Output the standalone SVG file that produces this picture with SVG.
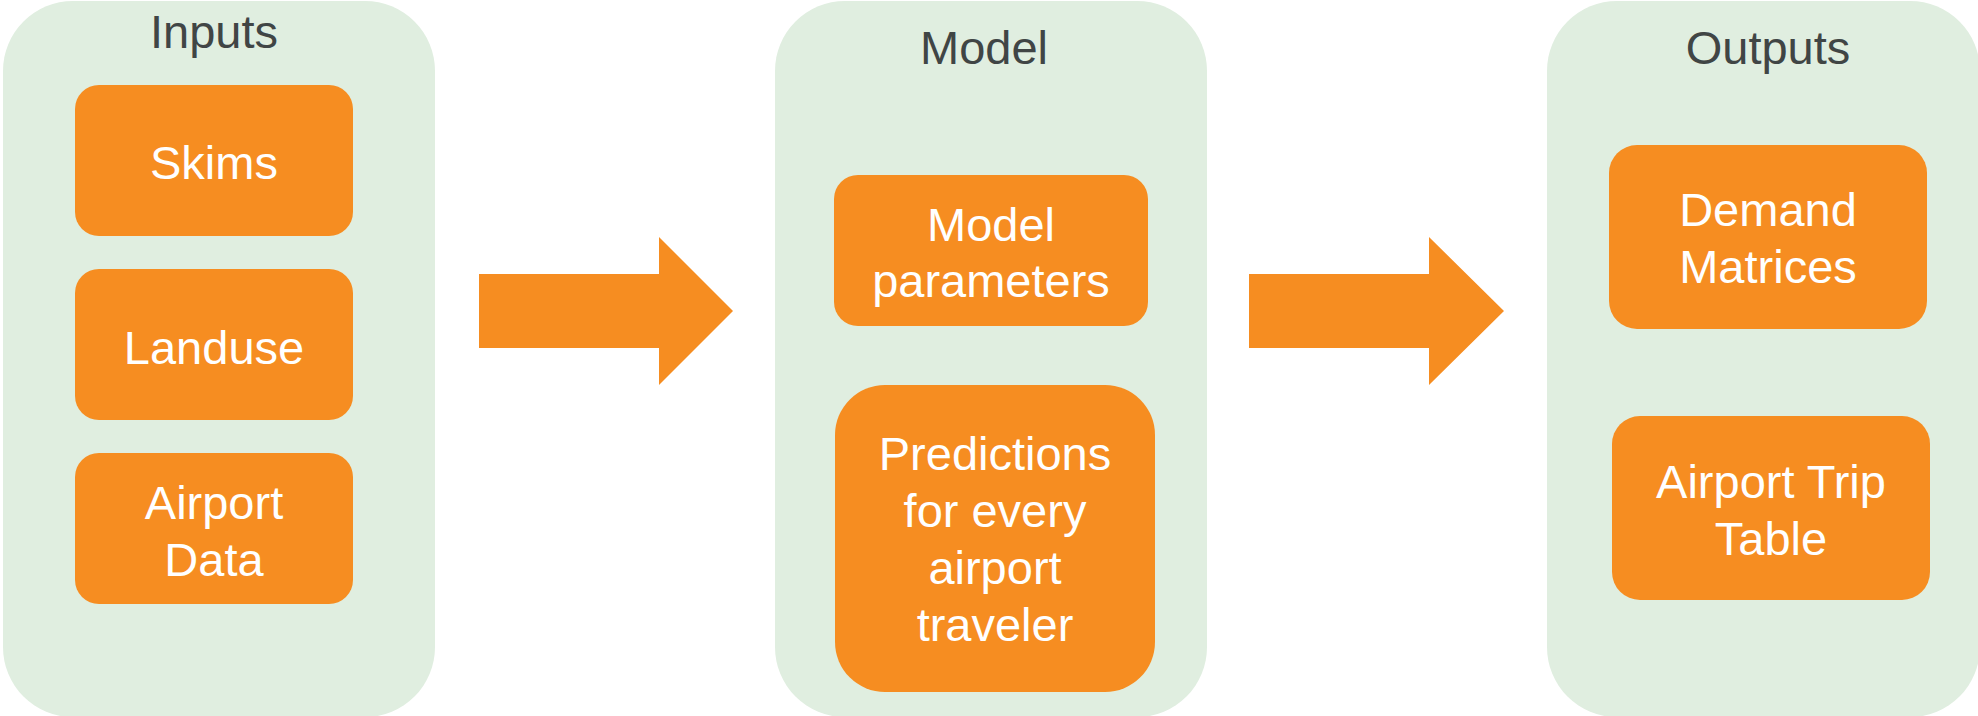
<svg xmlns="http://www.w3.org/2000/svg" width="1978" height="716" viewBox="0 0 1978 716">
<style>
.cont{fill:#E0EEE0;}
.box{fill:#F68D21;}
.title{font-family:"Liberation Sans",Arial,sans-serif;font-size:47px;fill:#404545;text-anchor:middle;}
.lbl{font-family:"Liberation Sans",Arial,sans-serif;font-size:47px;fill:#FFFFFF;text-anchor:middle;}
.arrow{fill:#F68D21;}
</style>
<rect width="1978" height="716" fill="#FFFFFF"/>
<g id="inputs">
<rect class="cont" x="3" y="1" width="432" height="716" rx="70" ry="70"/>
<text class="title" x="214" y="48">Inputs</text>
</g>
<g id="skims">
<rect class="box" x="75" y="85" width="278" height="151" rx="24" ry="24"/>
<text class="lbl" x="214" y="179">Skims</text>
</g>
<g id="landuse">
<rect class="box" x="75" y="269" width="278" height="151" rx="24" ry="24"/>
<text class="lbl" x="214" y="364">Landuse</text>
</g>
<g id="airport-data">
<rect class="box" x="75" y="453" width="278" height="151" rx="24" ry="24"/>
<text class="lbl" x="214" y="519">Airport</text>
<text class="lbl" x="214" y="576">Data</text>
</g>
<g id="model">
<rect class="cont" x="775" y="1" width="432" height="716" rx="70" ry="70"/>
<text class="title" x="984" y="64">Model</text>
</g>
<g id="model-parameters">
<rect class="box" x="834" y="175" width="314" height="151" rx="24" ry="24"/>
<text class="lbl" x="991" y="241">Model</text>
<text class="lbl" x="991" y="297">parameters</text>
</g>
<g id="predictions">
<rect class="box" x="835" y="385" width="320" height="307" rx="50" ry="50"/>
<text class="lbl" x="995" y="470">Predictions</text>
<text class="lbl" x="995" y="527">for every</text>
<text class="lbl" x="995" y="584">airport</text>
<text class="lbl" x="995" y="641">traveler</text>
</g>
<g id="outputs">
<rect class="cont" x="1547" y="1" width="433" height="716" rx="70" ry="70"/>
<text class="title" x="1768" y="64">Outputs</text>
</g>
<g id="demand-matrices">
<rect class="box" x="1609" y="145" width="318" height="184" rx="28" ry="28"/>
<text class="lbl" x="1768" y="226">Demand</text>
<text class="lbl" x="1768" y="283">Matrices</text>
</g>
<g id="airport-trip-table">
<rect class="box" x="1612" y="416" width="318" height="184" rx="28" ry="28"/>
<text class="lbl" x="1771" y="498">Airport Trip</text>
<text class="lbl" x="1771" y="555">Table</text>
</g>
<g id="connectors">
<polygon class="arrow" points="479,274 659,274 659,237 733,311 659,385 659,348 479,348"/>
<polygon class="arrow" points="1249,274 1429,274 1429,237 1504,311 1429,385 1429,348 1249,348"/>
</g>
</svg>
